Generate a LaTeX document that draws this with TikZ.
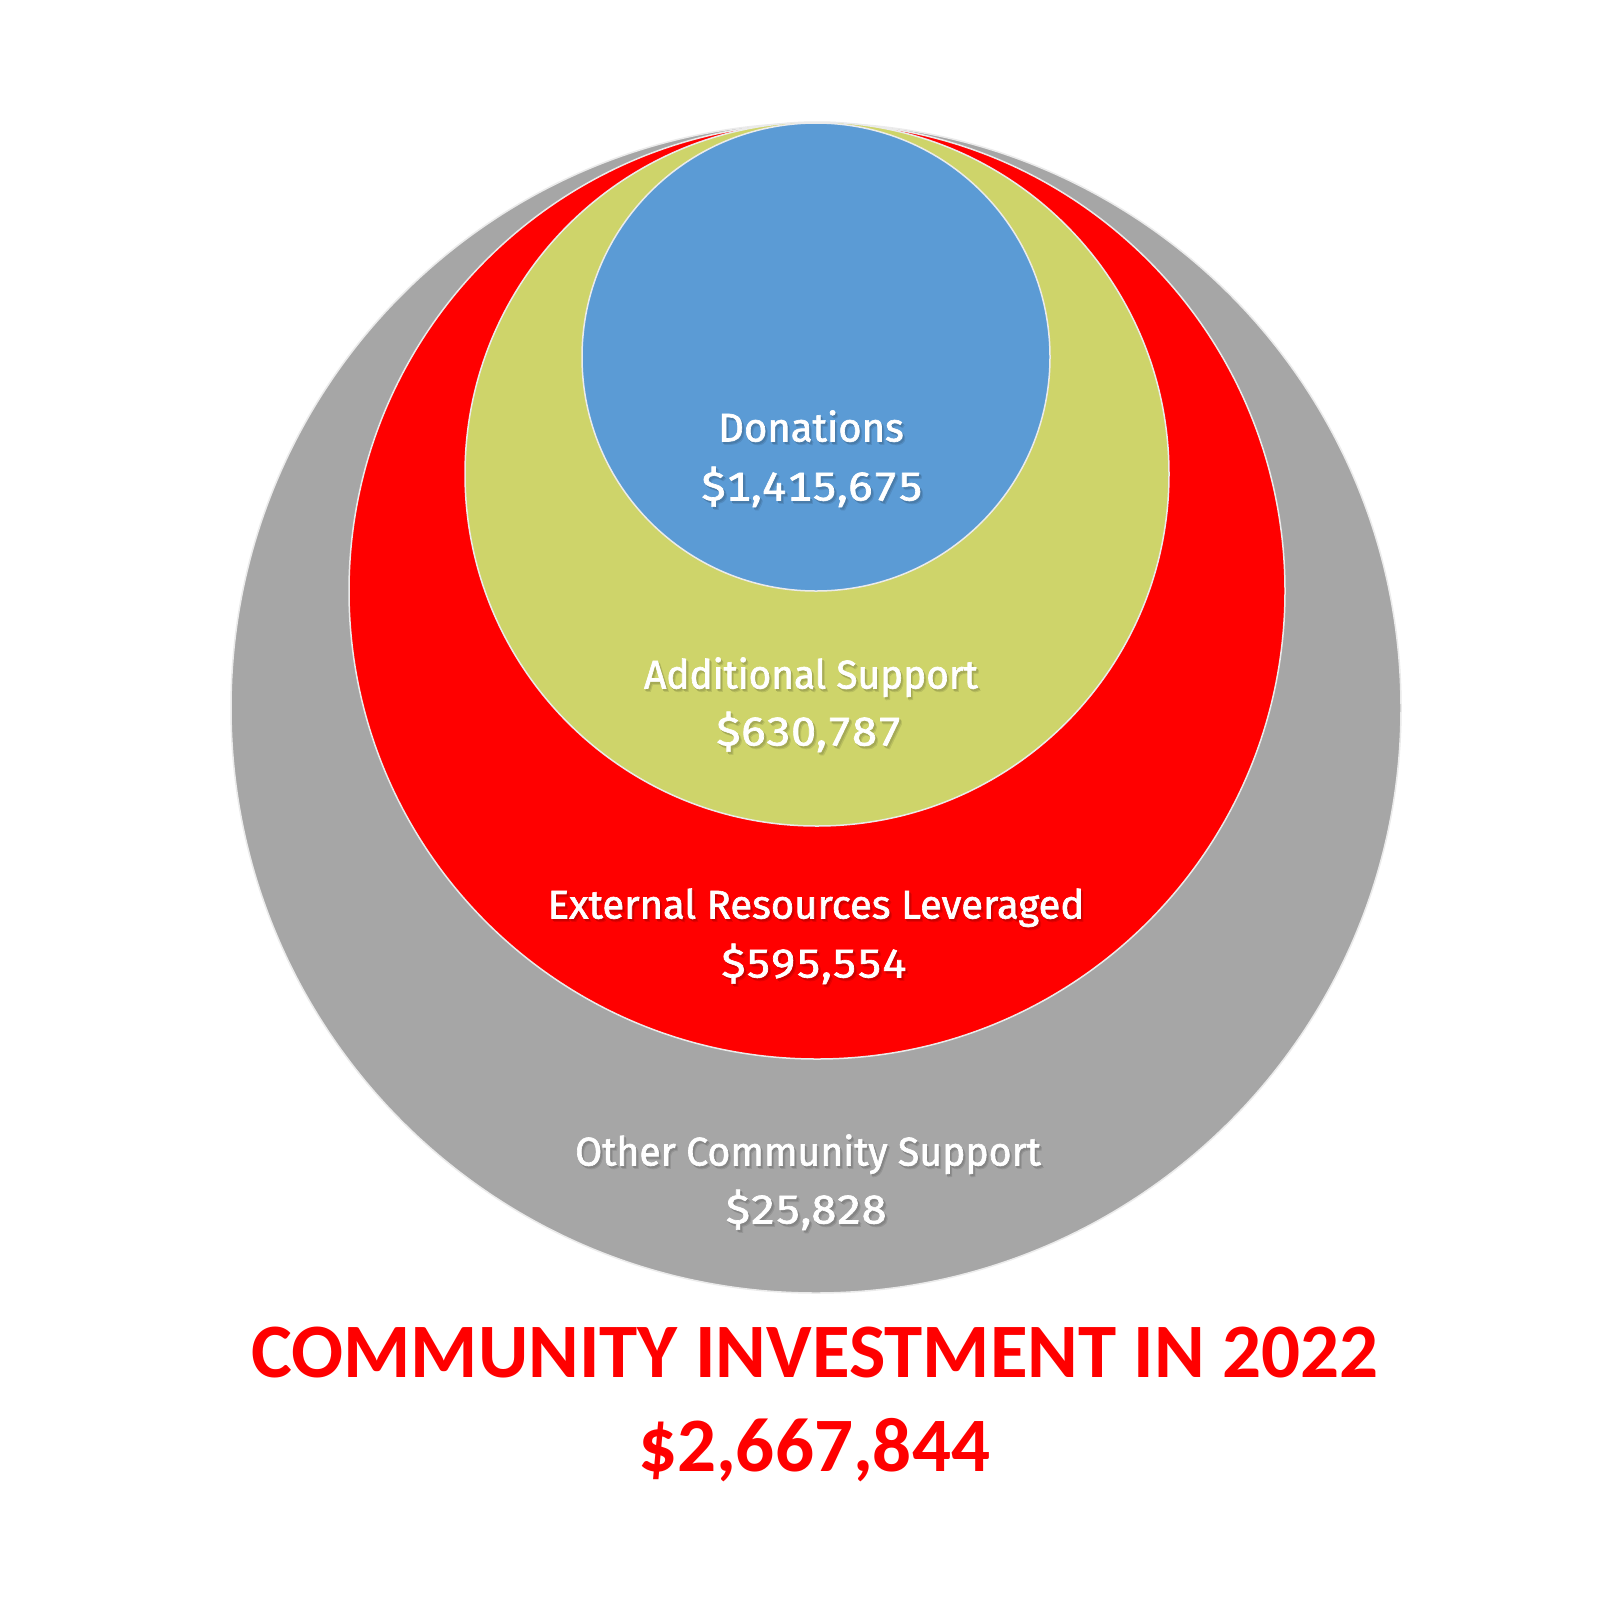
\documentclass[tikz,border=0pt]{standalone}
\usepackage{fontspec}
\setmainfont{Fira Sans}
\newfontfamily\lblfont{Fira Sans}[FakeBold=1.6]
\newfontfamily\numfont{Fira Sans}[FakeBold=1.6, Numbers=Monospaced]
\newfontfamily\titlefont{Carlito}
\definecolor{cgray}{HTML}{A6A6A6}
\definecolor{cred}{HTML}{FF0000}
\definecolor{cgreen}{HTML}{CED46A}
\definecolor{cblue}{HTML}{5B9BD5}
% white text with a soft shadow below right, in one box
\newcommand{\shtxt}[2]{\leavevmode
  \rlap{\kern2.5pt\raisebox{-3pt}{\color{#1!90!black}#2}}%
  \rlap{\kern1.5pt\raisebox{-2pt}{\color{#1!80!black}#2}}%
  {\color{white}#2}}
\begin{document}
\begin{tikzpicture}[x=1pt,y=-1pt,
  ring/.style={draw=white!92!black, line width=1.5pt},
  lbl/.style={font=\lblfont\fontsize{40}{40}\selectfont, inner sep=0pt, text height=29pt, text depth=0pt, anchor=center},
  ttl/.style={text=cred, font=\titlefont\bfseries\fontsize{77}{77}\selectfont, inner sep=0pt, anchor=center}]
\useasboundingbox (0,0) rectangle (1620,1620);
\fill[white] (0,0) rectangle (1620,1620);
\path[ring, fill=cgray] (816,708) circle[radius=585];
\path[ring, fill=cred] (817,591) circle[radius=468];
\path[ring, fill=cgreen] (817,474) circle[radius=352];
\path[ring, fill=cblue] (816,357) circle[radius=234];
\node[lbl] (d) at (811,427) {\shtxt{cblue}{Donations}};
\node[lbl, xscale=1.12] (dv) at (812,486) {\numfont\shtxt{cblue}{\$1,415,675}};
\node[lbl, xscale=0.97] (a) at (811,674) {\shtxt{cgreen}{Additional Support}};
\node[lbl, xscale=1.12] (av) at (809,731) {\numfont\shtxt{cgreen}{\$630,787}};
\node[lbl] (e) at (816,904) {\shtxt{cred}{External Resources Leveraged}};
\node[lbl, xscale=1.12] (ev) at (814,963) {\numfont\shtxt{cred}{\$595,554}};
\node[lbl, xscale=0.98] (o) at (808,1151) {\shtxt{cgray}{Other Community Support}};
\node[lbl, xscale=1.12] (ov) at (806,1209) {\numfont\shtxt{cgray}{\$25,828}};
\node[ttl, text height=48pt, text depth=0pt] (t1) at (815,1353) {COMMUNITY INVESTMENT IN 2022};
\node[ttl, text height=51pt, text depth=0pt] (t2) at (814,1446) {\$2,667,844};
\end{tikzpicture}
\end{document}
